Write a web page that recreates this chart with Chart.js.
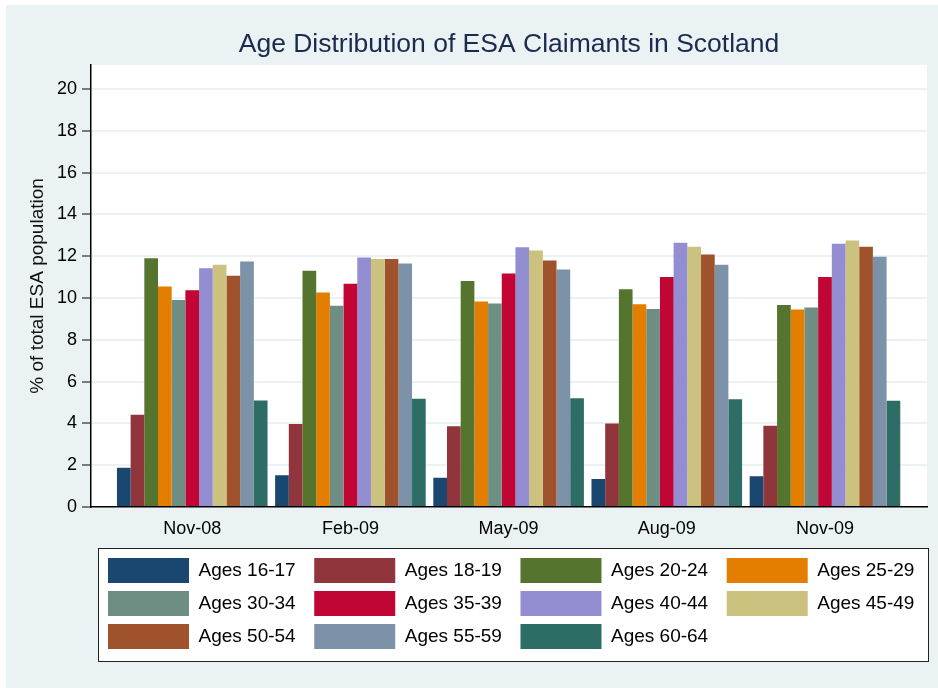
<!DOCTYPE html>
<html>
<head>
<meta charset="utf-8">
<title>Age Distribution of ESA Claimants in Scotland</title>
<script src="https://cdn.jsdelivr.net/npm/chart.js@4.4.1/dist/chart.umd.min.js"></script>
<style>
  html, body { margin: 0; padding: 0; background: #ffffff; }
  #wrap { position: absolute; left: 6px; top: 5px; width: 932px; height: 683px; }
</style>
</head>
<body>
<div id="wrap"><canvas id="esaChart" width="932" height="683"></canvas></div>
<script>
// survey months (x categories)
const months = ["Nov-08", "Feb-09", "May-09", "Aug-09", "Nov-09"];

// % of total ESA population, one array per age band
const ages1617 = [1.88, 1.52, 1.40, 1.34, 1.47];
const ages1819 = [4.42, 3.97, 3.86, 3.99, 3.89];
const ages2024 = [11.90, 11.30, 10.82, 10.42, 9.67];
const ages2529 = [10.55, 10.26, 9.83, 9.70, 9.45];
const ages3034 = [9.90, 9.63, 9.74, 9.48, 9.55];
const ages3539 = [10.37, 10.68, 11.17, 11.01, 11.01];
const ages4044 = [11.43, 11.94, 12.43, 12.65, 12.60];
const ages4549 = [11.59, 11.87, 12.27, 12.45, 12.75];
const ages5054 = [11.06, 11.87, 11.79, 12.08, 12.45];
const ages5559 = [11.75, 11.65, 11.36, 11.59, 11.98];
const ages6064 = [5.10, 5.18, 5.20, 5.16, 5.09];

const seriesNames = [
  "Ages 16-17", "Ages 18-19", "Ages 20-24", "Ages 25-29",
  "Ages 30-34", "Ages 35-39", "Ages 40-44", "Ages 45-49",
  "Ages 50-54", "Ages 55-59", "Ages 60-64",
];
const seriesValues = [
  ages1617, ages1819, ages2024, ages2529, ages3034, ages3539,
  ages4044, ages4549, ages5054, ages5559, ages6064,
];
const yTicks = [0, 2, 4, 6, 8, 10, 12, 14, 16, 18, 20];

// stata s2color palette
const colors = [
  "#1a476f", "#90353b", "#55752f", "#e37e00", "#6e8e84", "#c10534",
  "#938dd2", "#cac27e", "#a0522d", "#7b92a8", "#2d6d66",
];

const bluish = "#eaf2f3";

const datasets = seriesNames.map((name, s) => ({
  label: name,
  data: seriesValues[s].map((v, i) => ({ x: i, y: v })),
  backgroundColor: colors[s],
  borderWidth: 0,
}));

// grey page, white plot region, framed legend
const backdrop = {
  id: "backdrop",
  afterLayout(chart) {
    chart.legend.left = chart.chartArea.left + 9;
    chart.legend.right = chart.width;
  },
  beforeDraw(chart) {
    const c = chart.ctx;
    const a = chart.chartArea;
    const lg = chart.legend;
    c.save();
    c.fillStyle = bluish;
    c.fillRect(0, 0, chart.width, chart.height);
    c.fillStyle = "#ffffff";
    c.fillRect(a.left, a.top, a.right - a.left, a.bottom - a.top);
    const bx = Math.round(a.left + 7) + 0.5;
    const by = Math.round(lg.top - 2) + 0.5;
    const bw = Math.round(a.right - a.left - 6);
    const bh = Math.round(lg.bottom - lg.top + 4);
    c.fillRect(bx, by, bw, bh);
    c.strokeStyle = "#222222";
    c.lineWidth = 1;
    c.strokeRect(bx, by, bw, bh);
    c.restore();
  },
};

Chart.defaults.font.family = "'Liberation Sans', Arial, sans-serif";

const ctx = document.getElementById("esaChart").getContext("2d");

const esaChart = new Chart(ctx, {
  type: "bar",
  data: { datasets: datasets },
  options: {
    responsive: false,
    animation: false,
    categoryPercentage: 0.952,
    barPercentage: 1,
    layout: { padding: { left: 0, right: 11, top: 0, bottom: 29 } },
    scales: {
      x: {
        type: "linear",
        offset: false,
        min: -0.64,
        max: 4.645,
        afterBuildTicks: (scale) => {
          scale.ticks = months.map((m, i) => ({ value: i }));
        },
        afterFit: (scale) => {
          scale.height = 43;
        },
        ticks: {
          callback: (value) => months[value],
          font: { size: 18 },
          color: "#000000",
          padding: 11,
          maxRotation: 0,
        },
        grid: { display: false, drawTicks: false, offset: false },
        border: { display: true, color: "#000000", width: 1.5 },
      },
      y: {
        min: 0,
        max: 21.16,
        afterBuildTicks: (scale) => {
          scale.ticks = yTicks.map((v) => ({ value: v }));
        },
        afterFit: (scale) => {
          scale.width = 85;
        },
        ticks: {
          font: { size: 18 },
          color: "#000000",
          padding: 5,
        },
        grid: {
          color: (c) => (c.tick && c.tick.value === 0 ? "rgba(0,0,0,0)" : bluish),
          lineWidth: 2,
          tickLength: 9,
          tickColor: "#555555",
          tickWidth: 1.5,
        },
        border: { display: true, color: "#000000", width: 1.5 },
        title: {
          display: true,
          text: "% of total ESA population",
          font: { size: 19 },
          color: "#111111",
          padding: { top: 20, bottom: 0 },
        },
      },
    },
    plugins: {
      title: {
        display: true,
        fullSize: false,
        text: "Age Distribution of ESA Claimants in Scotland",
        color: "#1c2a4e",
        font: { size: 26.5, weight: "normal" },
        padding: { top: 24, bottom: 4 },
      },
      legend: {
        position: "bottom",
        align: "start",
        fullSize: false,
        labels: {
          boxWidth: 81,
          boxHeight: 25,
          padding: 8,
          color: "#000000",
          font: { size: 19 },
          generateLabels: (chart) =>
            Chart.defaults.plugins.legend.labels
              .generateLabels(chart)
              .map((item) => ({ ...item, text: item.text + "  ", lineWidth: 0 })),
        },
      },
      tooltip: { enabled: false },
    },
  },
  plugins: [backdrop],
});
</script>
</body>
</html>
